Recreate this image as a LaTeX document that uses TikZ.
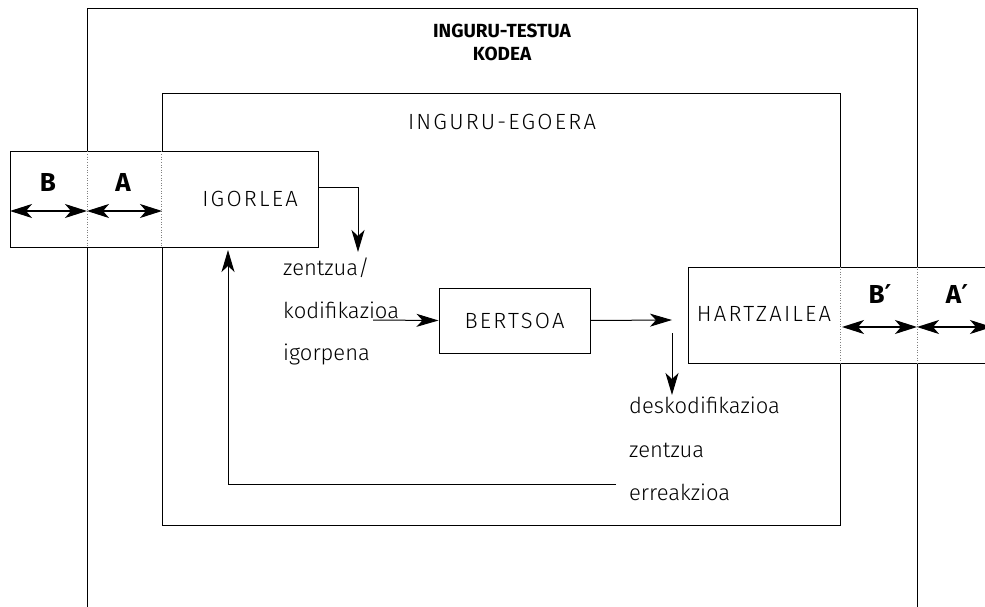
\documentclass[tikz,border=0pt]{standalone}
\usepackage{fontspec}
\setmainfont{Fira Sans}[UprightFont=* Light,BoldFont=* Bold]
\newfontfamily\spcfont{Fira Sans}[UprightFont=* Light,LetterSpace=10]
\newfontfamily\primefont{DejaVu Sans}
\usetikzlibrary{arrows.meta,positioning}

\tikzset{
	frame/.style={draw,line width=0.8pt},
	actor/.style={draw,fill=white,line width=1pt,inner sep=0pt},
	divider/.style={dotted,gray,line width=0.6pt},
	spaced/.style={font=\spcfont\fontsize{22}{26}\selectfont,inner sep=0pt},
	word/.style={font=\fontsize{22}{26}\selectfont,inner sep=0pt,anchor=base west},
	letter/.style={font=\bfseries\fontsize{26}{30}\selectfont,inner sep=0pt},
	arr/.style={-{Stealth[length=22pt,width=13pt,inset=6pt]},line width=1pt},
	darr/.style={{Stealth[length=22pt,width=14pt,inset=6pt]}-{Stealth[length=22pt,width=14pt,inset=6pt]},line width=1.4pt},
}
\newcommand{\prm}{{\primefont\bfseries ′}}

\begin{document}
\begin{tikzpicture}[x=1pt,y=-1pt]
	\useasboundingbox (0,0) rectangle (985,607);
	%% fig
	\coordinate (kl) at (87,8); % 左上
	\coordinate (kr) at (917,8); % 右上
	\draw[frame] (kl |- 0,607) -- (kl) -- (kr) -- (kr |- 0,607);
	\node[font=\bfseries\fontsize{19}{23}\selectfont,align=center,inner sep=0pt] (testua) at (502,42) {INGURU-TESTUA\\KODEA};
	\node[frame,minimum width=678pt,minimum height=432pt,inner sep=0pt] (egoera) at (501,309) {};
	\node[spaced] (egoeralbl) at (502,122) {INGURU-EGOERA};
	% igorlea
	\node[actor,minimum width=308pt,minimum height=95pt] (igorb) at (164,199.5) {};
	\node[spaced] (igorlea) at (250,199) {IGORLEA};
	\draw[divider] (igorb.north -| kl) -- (igorb.south -| kl);
	\draw[divider] (igorb.north -| egoera.west) -- (igorb.south -| egoera.west);
	\node[letter] (b) at (48,182) {B};
	\node[letter] (a) at (123,182) {A};
	\draw[darr] (10,211) -- (87,211);
	\draw[darr] (87,211) -- (162,211);
	% hartzailea
	\node[actor,minimum width=310pt,minimum height=96pt] (hartb) at (843,315) {};
	\node[spaced] (hartzailea) at (764,314) {HARTZAILEA};
	\draw[divider] (hartb.north -| egoera.east) -- (hartb.south -| egoera.east);
	\draw[divider] (hartb.north -| kr) -- (hartb.south -| kr);
	\node[letter] (bp) at (880,294) {B\prm};
	\node[letter] (ap) at (957,294) {A\prm};
	\draw[darr] (842,327) -- (917,327);
	\draw[darr] (917,327) -- (992,327);
	% bertsoa
	\node[actor,spaced,minimum width=151pt,minimum height=65pt] (bertsoa) at (514.5,320.5) {BERTSOA};
	\node[word] (zentzua) at (283,275) {zentzua/};
	\node[word] (kodif) at (283,318) {kodifikazioa};
	\node[word] (igorpena) at (283,360) {igorpena};
	\node[word] (deskod) at (629,413) {deskodifikazioa};
	\node[word] (zentzuab) at (629,457) {zentzua};
	\node[word] (erreak) at (629,500) {erreakzioa};
	% 连线
	\coordinate (kodin) at (358,252);
	\coordinate (kodout) at (373,320);
	\coordinate (bertout) at (672,320);
	\coordinate (deskin) at (672,333);
	\coordinate (deskout) at (672,395);
	\coordinate (errout) at (616,484);
	\coordinate (igorin) at (228,250);
	\draw[arr] ([yshift=12.5pt]igorb.east) -| (kodin);
	\draw[arr] (kodout) -- (bertsoa.west);
	\draw[arr] (bertsoa.east) -- (bertout);
	\draw[arr] (deskin) -- (deskout);
	\draw[arr] (errout) -| (igorin);
\end{tikzpicture}
\end{document}
